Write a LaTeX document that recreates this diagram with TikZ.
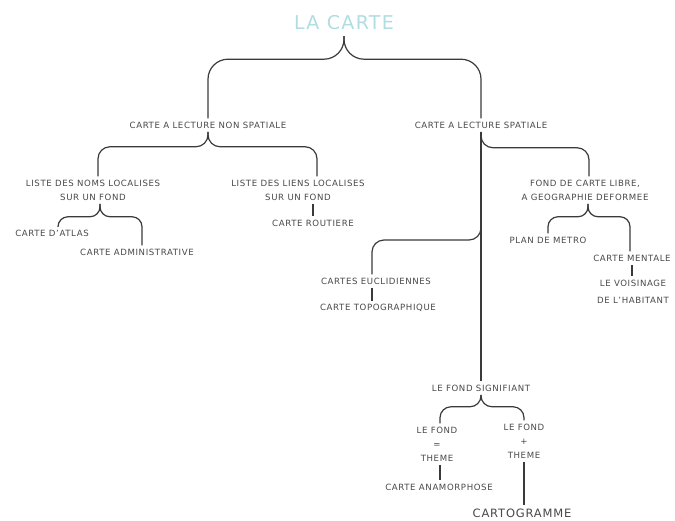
\documentclass[tikz,border=0pt]{standalone}
\usepackage{fontspec}
\setmainfont{DejaVu Sans}[LetterSpace=7]
\usetikzlibrary{positioning, calc}
\definecolor{titre}{RGB}{176,221,226}
\definecolor{encre}{RGB}{58,58,58}
\definecolor{texte}{RGB}{72,72,72}

\begin{document}
\begin{tikzpicture}[x=1pt, y=-1pt,
  etiq/.style={font=\fontsize{8.6}{14}\selectfont, text=texte, inner sep=1.5pt,
    outer xsep=0pt, outer ysep=2pt, align=center},
  trait/.style={draw=encre, line width=1.2pt, rounded corners=12pt},
]
\useasboundingbox (0,0) rectangle (675,520);

% titre
\node[etiq, font=\fontsize{19}{24}\selectfont, text=titre, outer ysep=5pt] (carte) at (344,22.5) {LA CARTE};

% niveau 1
\node[etiq] (nonspat) at (208,125) {CARTE A LECTURE NON SPATIALE};
\node[etiq] (spat) at (481,125) {CARTE A LECTURE SPATIALE};

% lecture non spatiale
\node[etiq] (noms) at (93,190) {LISTE DES NOMS LOCALISES\\SUR UN FOND};
\node[etiq] (liens) at (298,190) {LISTE DES LIENS LOCALISES\\SUR UN FOND};
\node[etiq] (atlas) at (52,233) {CARTE D'ATLAS};
\node[etiq] (admin) at (137,252) {CARTE ADMINISTRATIVE};
\node[etiq] (routiere) at (313,223) {CARTE ROUTIERE};

% lecture spatiale
\node[etiq] (libre) at (585,190) {FOND DE CARTE LIBRE,\\A GEOGRAPHIE DEFORMEE};
\node[etiq] (metro) at (548,240) {PLAN DE METRO};
\node[etiq] (mentale) at (632,258) {CARTE MENTALE};
\node[etiq] (voisin) at (633,291.5) {LE VOISINAGE\\[3pt]DE L'HABITANT};
\node[etiq] (eucl) at (376,281) {CARTES EUCLIDIENNES};
\node[etiq] (topo) at (378,308) {CARTE TOPOGRAPHIQUE};

% fond signifiant
\node[etiq] (signif) at (481,388) {LE FOND SIGNIFIANT};
\node[etiq] (fond1) at (437,444) {LE FOND\\=\\THEME};
\node[etiq] (fond2) at (524,441) {LE FOND\\+\\THEME};
\node[etiq] (anam) at (439,487) {CARTE ANAMORPHOSE};
\node[etiq, font=\fontsize{11.5}{14}\selectfont] (cartog) at (522,513) {CARTOGRAMME};

% accolades
\draw[trait, rounded corners=20pt] (carte.south) -- ++(0,23) -| (nonspat.north);
\draw[trait, rounded corners=20pt] (carte.south) -- ++(0,23) -| (spat.north);

\draw[trait] (nonspat.south) -- ++(0,15) -| ([xshift=5pt]noms.north);
\draw[trait] (nonspat.south) -- ++(0,15) -| ([xshift=19pt]liens.north);

\draw[trait, rounded corners=10pt] ([xshift=7pt]noms.south) -- ++(0,13) -| ([xshift=6pt]atlas.north);
\draw[trait, rounded corners=10pt] ([xshift=7pt]noms.south) -- ++(0,13) -| ([xshift=5pt]admin.north);
\draw[trait] (liens.south -| routiere.north) -- (routiere.north);

% tronc spatial
\draw[trait] (spat.south) -- (signif.north);
\draw[trait] (spat.south) -- ++(0,16) -| ([xshift=4pt]libre.north);
\coordinate (eb) at (spat.south |- 0,226);
\draw[trait] (eb) -- ++(0,14) -| ([xshift=-4pt]eucl.north);
\draw[trait] ([xshift=-4pt]eucl.south) -- ([xshift=-4pt]eucl.south |- topo.north);

\draw[trait, rounded corners=10pt] ([xshift=3pt]libre.south) -- ++(0,13) -| (metro.north);
\draw[trait, rounded corners=10pt] ([xshift=3pt]libre.south) -- ++(0,13) -| ([xshift=-2pt]mentale.north);
\draw[trait] (mentale.south) -- (mentale.south |- voisin.north);

\draw[trait, rounded corners=11pt] (signif.south) -- ++(0,12) -| ([xshift=3pt]fond1.north);
\draw[trait, rounded corners=11pt] (signif.south) -- ++(0,12) -| (fond2.north);
\draw[trait] ([xshift=3pt]fond1.south) -- ([xshift=3pt]fond1.south |- anam.north);
\draw[trait] (fond2.south) -- (fond2.south |- cartog.north);

\end{tikzpicture}
\end{document}
